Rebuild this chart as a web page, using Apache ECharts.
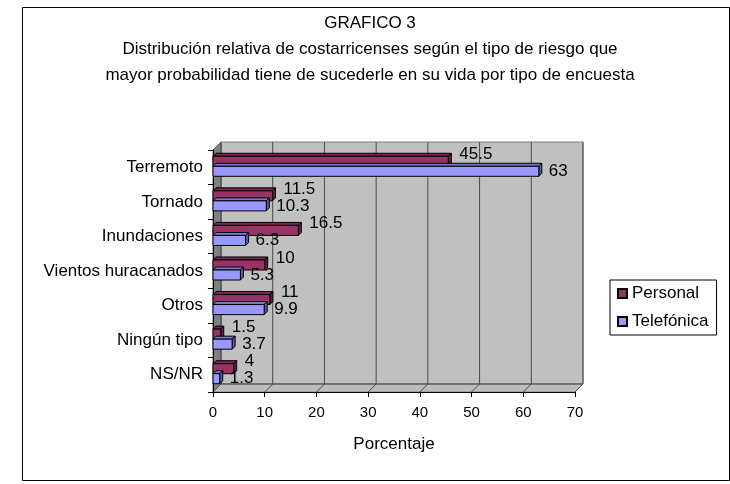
<!DOCTYPE html>
<html>
<head>
<meta charset="utf-8">
<script src="https://cdn.jsdelivr.net/npm/echarts@6/dist/echarts.min.js"></script>
<style>html,body{margin:0;padding:0;background:#fff;}#c{width:730px;height:484px;}</style>
</head>
<body>
<div id="c"></div>
<script>
const categories = ['Terremoto', 'Tornado', 'Inundaciones', 'Vientos huracanados', 'Otros', 'Ningún tipo', 'NS/NR'];
const personal = [45.5, 11.5, 16.5, 10, 11, 1.5, 4];
const telefonica = [63, 10.3, 6.3, 5.3, 9.9, 3.7, 1.3];
const seriesNames = ['Personal', 'Telefónica'];
const xTicks = [0, 10, 20, 30, 40, 50, 60, 70];
const titleLines = ['GRAFICO 3', 'Distribución relativa de costarricenses según el tipo de riesgo que', 'mayor probabilidad tiene de sucederle en su vida por tipo de encuesta'];
const xName = 'Porcentaje';

const FONT = 'Liberation Sans, Arial, sans-serif';
const D = 8;   // wall depth
const d = 3;   // bar depth
const colors = [
  {front: '#993366', top: '#7a2952', side: '#5c1f3d'},
  {front: '#9999ff', top: '#7a7acc', side: '#5c5c99'}
];

function wallsRender(params, api) {
  const cs = params.coordSys;
  const x0 = cs.x, x1 = cs.x + cs.width, y0 = cs.y, y1 = cs.y + cs.height;
  const ch = [];
  ch.push({type: 'polygon', shape: {points: [[x0 + D, y0 - D], [x1 + D, y0 - D], [x1 + D, y1 - D], [x0 + D, y1 - D]]}, style: {fill: '#c0c0c0', stroke: '#808080', lineWidth: 1}});
  ch.push({type: 'polygon', shape: {points: [[x0, y0], [x0 + D, y0 - D], [x0 + D, y1 - D], [x0, y1]]}, style: {fill: '#808080', stroke: '#606060', lineWidth: 1}});
  ch.push({type: 'polygon', shape: {points: [[x0, y1], [x1, y1], [x1 + D, y1 - D], [x0 + D, y1 - D]]}, style: {fill: '#bcbcbc', stroke: '#808080', lineWidth: 1}});
  xTicks.forEach(function (v) {
    const x = api.coord([v, 0])[0];
    ch.push({type: 'line', shape: {x1: x + D, y1: y0 - D, x2: x + D, y2: y1 - D}, style: {stroke: '#4a4a4a', lineWidth: 1}});
    ch.push({type: 'line', shape: {x1: x, y1: y1, x2: x + D, y2: y1 - D}, style: {stroke: '#4a4a4a', lineWidth: 1}});
  });
  ch.push({type: 'line', shape: {x1: x0 + D, y1: y1 - D, x2: x1 + D, y2: y1 - D}, style: {stroke: '#4a4a4a', lineWidth: 1}});
  return {type: 'group', children: ch};
}

function makeBarRender(s) {
  return function (params, api) {
    const v = api.value(0), idx = api.value(1);
    const base = api.coord([0, idx]);
    const end = api.coord([v, idx]);
    const band = api.size([0, 1])[1];
    const bh = band * 0.29;
    const center = base[1] - 1;
    const ya = s === 0 ? center - bh : center;
    const yb = ya + bh;
    const xa = base[0], xb = end[0];
    const c = colors[s];
    const st = {stroke: '#000', lineWidth: 1};
    const lbl = s === 0 ? {dx: 11, dy: -7} : {dx: 10, dy: 0};
    return {type: 'group', children: [
      {type: 'polygon', shape: {points: [[xa, ya], [xb, ya], [xb + d, ya - d], [xa + d, ya - d]]}, style: Object.assign({fill: c.top}, st)},
      {type: 'polygon', shape: {points: [[xb, ya], [xb + d, ya - d], [xb + d, yb - d], [xb, yb]]}, style: Object.assign({fill: c.side}, st)},
      {type: 'rect', shape: {x: xa, y: ya, width: xb - xa, height: bh}, style: Object.assign({fill: c.front}, st)},
      {type: 'text', x: xb + lbl.dx, y: (ya + yb) / 2 + lbl.dy, style: {text: String(v), fill: '#000', font: '17px ' + FONT, textAlign: 'left', textVerticalAlign: 'middle'}}
    ]};
  };
}

const chart = echarts.init(document.getElementById('c'), null, {renderer: 'canvas'});
chart.setOption({
  animation: false,
  backgroundColor: '#fff',
  textStyle: {fontFamily: FONT},
  graphic: [{type: 'rect', left: 20, top: 5, shape: {width: 707, height: 473}, style: {fill: 'none', stroke: '#000', lineWidth: 1}, z: -1}],
  title: {
    text: titleLines.join('\n'),
    left: 365,
    top: 5,
    textAlign: 'center',
    textStyle: {fontSize: 17, fontWeight: 'normal', color: '#000', lineHeight: 26, fontFamily: FONT}
  },
  legend: {
    orient: 'vertical',
    left: 610,
    top: 280,
    padding: [5, 8, 5, 7],
    itemGap: 11,
    itemWidth: 9,
    itemHeight: 9,
    itemTextGap: 6,
    icon: 'rect',
    borderColor: '#000',
    borderWidth: 1,
    textStyle: {fontSize: 17, color: '#000', fontFamily: FONT},
    data: seriesNames
  },
  grid: {left: 213, right: 155, top: 150, bottom: 92, containLabel: false},
  xAxis: {
    type: 'value', min: 0, max: 70, interval: 10,
    name: xName, nameLocation: 'middle', nameGap: 44,
    nameTextStyle: {fontSize: 17, color: '#000', fontFamily: FONT},
    axisLine: {show: true, lineStyle: {color: '#000'}},
    axisTick: {show: true, length: 5, lineStyle: {color: '#000'}},
    axisLabel: {fontSize: 15, color: '#000', margin: 13, fontFamily: FONT},
    splitLine: {show: false}
  },
  yAxis: {
    type: 'category', inverse: true, data: categories,
    axisLine: {show: true, lineStyle: {color: '#000'}},
    axisTick: {show: true, length: 5, lineStyle: {color: '#000'}},
    axisLabel: {fontSize: 17, color: '#000', margin: 10, fontFamily: FONT},
    splitLine: {show: false}
  },
  series: [
    {type: 'custom', name: 'walls', renderItem: wallsRender, data: [[0, 0]], encode: {x: 0, y: 1}, z: 0, silent: true, clip: false},
    {type: 'custom', name: seriesNames[0], renderItem: makeBarRender(0), itemStyle: {color: colors[0].front, borderColor: '#000', borderWidth: 1},
      data: personal.map(function (v, i) { return [v, i]; }), encode: {x: 0, y: 1}, z: 3, clip: false},
    {type: 'custom', name: seriesNames[1], renderItem: makeBarRender(1), itemStyle: {color: colors[1].front, borderColor: '#000', borderWidth: 1},
      data: telefonica.map(function (v, i) { return [v, i]; }), encode: {x: 0, y: 1}, z: 3, clip: false}
  ]
});
</script>
</body>
</html>
